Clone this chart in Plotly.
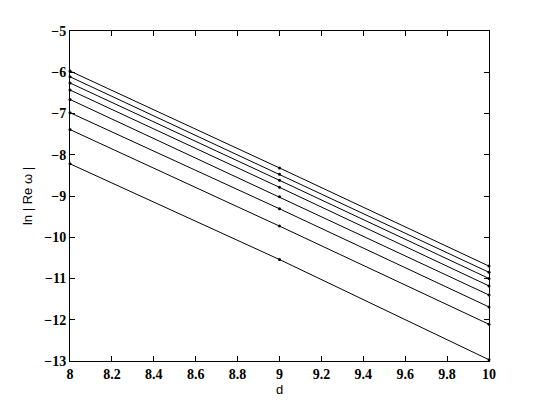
import plotly.graph_objects as go

d_values = [8, 9, 10]
series = [
    [-5.97, -8.32, -10.70],
    [-6.11, -8.47, -10.85],
    [-6.26, -8.62, -11.00],
    [-6.43, -8.79, -11.18],
    [-6.66, -9.02, -11.40],
    [-6.98, -9.31, -11.69],
    [-7.39, -9.73, -12.11],
    [-8.22, -10.54, -12.97],
]
x_ticks = [8, 8.2, 8.4, 8.6, 8.8, 9, 9.2, 9.4, 9.6, 9.8, 10]
y_ticks = [-13, -12, -11, -10, -9, -8, -7, -6, -5]

fig = go.Figure()
for s in series:
    fig.add_trace(go.Scatter(
        x=d_values, y=s, mode="lines+markers",
        line=dict(color="black", width=1),
        marker=dict(color="black", size=3),
        showlegend=False, cliponaxis=False,
    ))

tick_font = dict(family="Liberation Serif, Times New Roman, serif", size=14, color="black", weight="bold")
label_font = dict(family="Liberation Sans, Arial, sans-serif", size=13, color="black")
axis_common = dict(
    showline=True, linecolor="black", linewidth=1, mirror="ticks",
    ticks="inside", ticklen=5, tickcolor="black", tickwidth=1,
    showgrid=False, zeroline=False, tickfont=tick_font,
)
fig.update_xaxes(range=[8, 10], tickvals=x_ticks,
                 ticktext=[f"{v:g}" for v in x_ticks],
                 title=dict(text="d", font=label_font, standoff=4),
                 **axis_common)
fig.update_yaxes(range=[-13, -5], tickvals=y_ticks,
                 ticktext=[f"\u2212{abs(v)}" for v in y_ticks],
                 title=dict(text="ln | Re \u03c9 |", font=label_font, standoff=8),
                 **axis_common)
fig.update_layout(
    width=540, height=406,
    margin=dict(l=62, r=59, t=23, b=53),
    paper_bgcolor="white", plot_bgcolor="white",
)
fig.write_html("out.html")
